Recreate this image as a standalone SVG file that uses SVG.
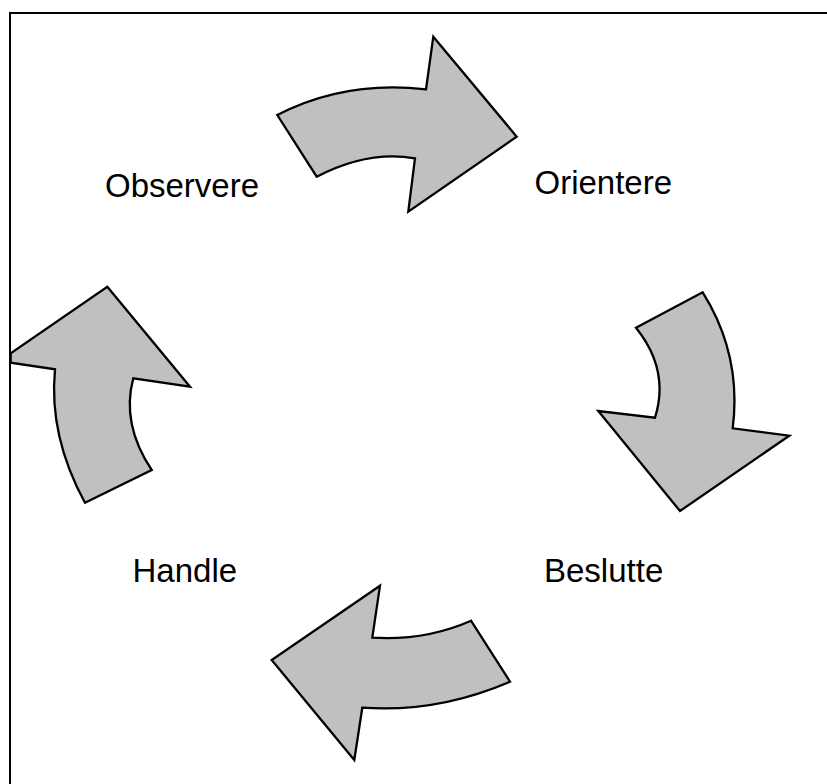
<svg xmlns="http://www.w3.org/2000/svg" width="827" height="784" viewBox="0 0 827 784">
<style>
.arrow{fill:#c0c0c0;stroke:#000;stroke-width:2.3;stroke-linejoin:miter}
.lbl{font-family:"Liberation Sans",Arial,sans-serif;font-size:33px;fill:#000}
</style>
<rect width="827" height="784" fill="#fff"/>
<path d="M10 784 V13 H827" fill="none" stroke="#000" stroke-width="2"/>
<g id="connectors">
<path id="arrow-observe-orient" class="arrow" d="M277.3 115 Q345 80 426 89.3 L433.3 36.7 L516.7 136.7 L408.3 211.7 L415 158.3 Q368 150 316.7 176.7 Z"/>
<path id="arrow-orient-decide" class="arrow" d="M636 327.7 L702.7 292.3 Q742 355 732.7 428.3 L789.3 435.7 L680 511 L598.3 411 L655 417.7 Q670 370 636 327.7 Z"/>
<path id="arrow-decide-act" class="arrow" d="M380 585.7 L372.3 637.7 Q425 641 471 620.7 L510 681.7 Q437 713 362.3 707.7 L354.3 760 L271.7 660 Z"/>
<path id="arrow-act-observe" class="arrow" d="M107.3 286.7 L190 386.7 L133.3 378.3 Q121 424 151.7 470 L85 502.7 Q48.6 436 55 369.3 L10.7 362.7 L10.7 353.3 Z"/>
</g>
<g id="node-observere"><text class="lbl" x="105" y="197">Observere</text></g>
<g id="node-orientere"><text class="lbl" x="534.5" y="194">Orientere</text></g>
<g id="node-beslutte"><text class="lbl" x="544" y="582">Beslutte</text></g>
<g id="node-handle"><text class="lbl" x="132.5" y="582">Handle</text></g>
</svg>
